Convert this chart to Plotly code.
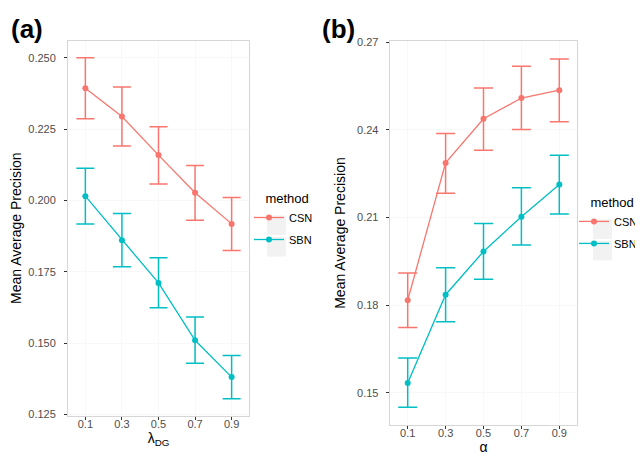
import plotly.graph_objects as go

# ---- data ----
x_vals = [0.1, 0.3, 0.5, 0.7, 0.9]
x_labels = ["0.1", "0.3", "0.5", "0.7", "0.9"]

# panel (a): lambda_DG
a_csn = [0.2393, 0.2294, 0.2159, 0.2027, 0.1918]
a_csn_hi = [0.2500, 0.2398, 0.2258, 0.2123, 0.2010]
a_csn_lo = [0.2286, 0.2191, 0.2058, 0.1931, 0.1825]
a_sbn = [0.2015, 0.1861, 0.1711, 0.1510, 0.1381]
a_sbn_hi = [0.2113, 0.1954, 0.1799, 0.1592, 0.1457]
a_sbn_lo = [0.1918, 0.1768, 0.1624, 0.1430, 0.1305]

# panel (b): alpha
b_csn = [0.1817, 0.2287, 0.2438, 0.2509, 0.2536]
b_csn_hi = [0.1910, 0.2388, 0.2543, 0.2618, 0.2643]
b_csn_lo = [0.1724, 0.2183, 0.2330, 0.2401, 0.2428]
b_sbn = [0.1534, 0.1836, 0.1984, 0.2103, 0.2213]
b_sbn_hi = [0.1619, 0.1928, 0.2080, 0.2202, 0.2313]
b_sbn_lo = [0.1451, 0.1743, 0.1889, 0.2006, 0.2112]

a_yticks = [0.125, 0.150, 0.175, 0.200, 0.225, 0.250]
a_ytext = ["0.125", "0.150", "0.175", "0.200", "0.225", "0.250"]
b_yticks = [0.15, 0.18, 0.21, 0.24, 0.27]
b_ytext = ["0.15", "0.18", "0.21", "0.24", "0.27"]

CSN_COLOR = "#F8766D"
SBN_COLOR = "#00BFC4"
FONT = "Liberation Sans, Arial, sans-serif"
W, H = 643, 454


def trace(x, y, hi, lo, name, color, xa, ya, legend, cap):
    return go.Scatter(
        x=x, y=y, name=name, mode="lines+markers",
        line=dict(color=color, width=1.3),
        marker=dict(color=color, size=6),
        error_y=dict(type="data", symmetric=False,
                     array=[h - v for h, v in zip(hi, y)],
                     arrayminus=[v - l for v, l in zip(y, lo)],
                     color=color, thickness=1.5, width=cap),
        xaxis=xa, yaxis=ya, legend=legend, legendgroup=legend + name,
    )


fig = go.Figure()
fig.add_trace(trace(x_vals, a_csn, a_csn_hi, a_csn_lo, "CSN", CSN_COLOR, "x", "y", "legend", 9))
fig.add_trace(trace(x_vals, a_sbn, a_sbn_hi, a_sbn_lo, "SBN", SBN_COLOR, "x", "y", "legend", 9))
fig.add_trace(trace(x_vals, b_csn, b_csn_hi, b_csn_lo, "CSN", CSN_COLOR, "x2", "y2", "legend2", 9.5))
fig.add_trace(trace(x_vals, b_sbn, b_sbn_hi, b_sbn_lo, "SBN", SBN_COLOR, "x2", "y2", "legend2", 9.5))

axis_common = dict(
    showline=True, mirror=True, linecolor="#d6d6d6", linewidth=1,
    ticks="outside", ticklen=3, tickcolor="#333333", tickwidth=1,
    showgrid=True, gridcolor="#f8f8f8", zeroline=False,
    tickfont=dict(family=FONT, size=11, color="#4d4d4d"),
)
title_font = dict(family=FONT, size=14, color="black")

ax_a = (60 / W, 241 / W)
ay_a = ((H - 411.7) / H, (H - 28.3) / H)
ax_b = (381.7 / W, 569.3 / W)
ay_b = ((H - 421) / H, (H - 29) / H)

NB = "\u00a0"

# light grey legend key backgrounds (as in ggplot)
key_boxes = []
for (x0, yc) in [(259, 217), (259, 239), (585, 221), (585, 243)]:
    key_boxes.append(dict(type="rect", xref="paper", yref="paper",
                          x0=x0 / W, x1=(x0 + 19) / W,
                          y0=(H - yc - 10) / H, y1=(H - yc + 10) / H,
                          line=dict(width=0), fillcolor="#f2f2f2", layer="below"))

fig.update_layout(
    width=W, height=H,
    margin=dict(l=0, r=0, t=0, b=0),
    paper_bgcolor="white", plot_bgcolor="white",
    font=dict(family=FONT, color="black"),
    xaxis=dict(domain=ax_a, range=[0.005, 0.995], tickvals=x_vals, ticktext=x_labels,
               anchor="y", ticklabelstandoff=-5,
               title=dict(text="λ<sub>DG</sub>", font=title_font, standoff=3),
               **axis_common),
    yaxis=dict(domain=ay_a, range=[0.1246, 0.2560], tickvals=a_yticks, ticktext=a_ytext,
               anchor="x", ticklabelstandoff=6,
               title=dict(text="Mean Average Precision", font=title_font, standoff=9),
               **axis_common),
    xaxis2=dict(domain=ax_b, range=[0.005, 0.995], tickvals=x_vals, ticktext=x_labels,
                anchor="y2", ticklabelstandoff=-5,
                title=dict(text="α", font=title_font, standoff=0),
                **axis_common),
    yaxis2=dict(domain=ay_b, range=[0.1391, 0.2703], tickvals=b_yticks, ticktext=b_ytext,
                anchor="x2", ticklabelstandoff=5,
                title=dict(text="Mean Average Precision", font=title_font, standoff=8),
                **axis_common),
    legend=dict(x=241 / W, y=(H - 177) / H, xanchor="left", yanchor="top",
                title=dict(text=NB * 4 + "method", font=dict(family=FONT, size=13, color="black")),
                font=dict(family=FONT, size=11, color="black"),
                bgcolor="rgba(0,0,0,0)", tracegroupgap=3),
    legend2=dict(x=566 / W, y=(H - 181) / H, xanchor="left", yanchor="top",
                 title=dict(text=NB * 4 + "method", font=dict(family=FONT, size=13, color="black")),
                 font=dict(family=FONT, size=11, color="black"),
                 bgcolor="rgba(0,0,0,0)", tracegroupgap=3),
    shapes=key_boxes,
    annotations=[
        dict(text="<b>(a)</b>", x=19 / W, y=(H - 16) / H, xref="paper", yref="paper",
             showarrow=False, font=dict(family=FONT, size=26, color="black"),
             xanchor="center", yanchor="middle"),
        dict(text="<b>(b)</b>", x=330 / W, y=(H - 16) / H, xref="paper", yref="paper",
             showarrow=False, font=dict(family=FONT, size=26, color="black"),
             xanchor="center", yanchor="middle"),
    ],
)

fig.write_html("out.html")
